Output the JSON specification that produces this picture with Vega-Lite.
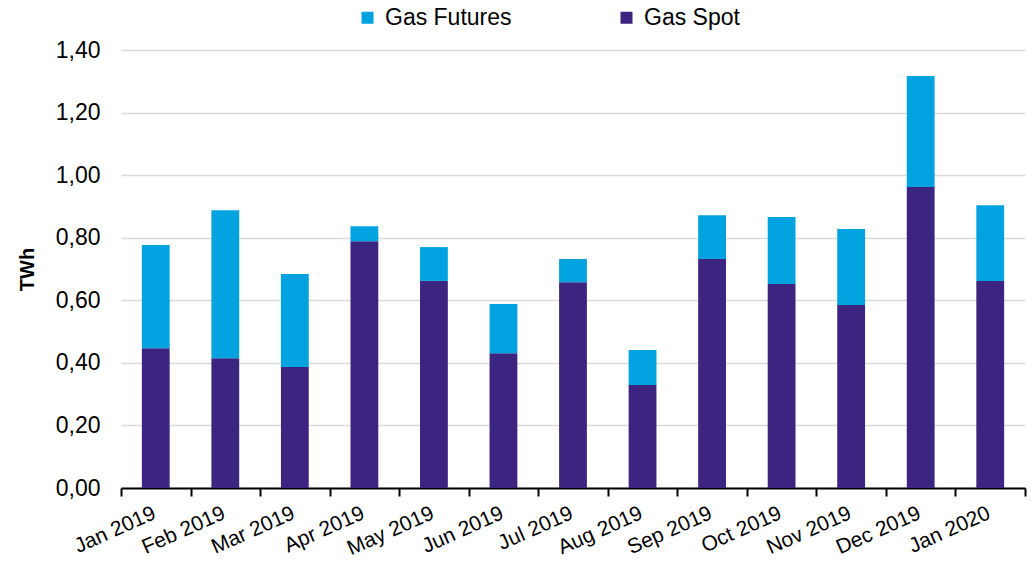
{
  "$schema": "https://vega.github.io/schema/vega-lite/v6.json",
  "width": 904,
  "height": 438,
  "autosize": {"type": "none"},
  "padding": {"left": 121, "top": 50, "right": 6, "bottom": 75},
  "background": "white",
  "config": {
    "view": {"stroke": null},
    "font": "Liberation Sans",
    "locale": {"number": {"decimal": ",", "thousands": ".", "grouping": [3], "currency": ["", " €"]}}
  },
  "data": {
    "values": [
      {"month": "Jan 2019", "series": "Gas Spot", "value": 0.447},
      {"month": "Jan 2019", "series": "Gas Futures", "value": 0.330},
      {"month": "Feb 2019", "series": "Gas Spot", "value": 0.415},
      {"month": "Feb 2019", "series": "Gas Futures", "value": 0.473},
      {"month": "Mar 2019", "series": "Gas Spot", "value": 0.387},
      {"month": "Mar 2019", "series": "Gas Futures", "value": 0.297},
      {"month": "Apr 2019", "series": "Gas Spot", "value": 0.789},
      {"month": "Apr 2019", "series": "Gas Futures", "value": 0.048},
      {"month": "May 2019", "series": "Gas Spot", "value": 0.662},
      {"month": "May 2019", "series": "Gas Futures", "value": 0.108},
      {"month": "Jun 2019", "series": "Gas Spot", "value": 0.431},
      {"month": "Jun 2019", "series": "Gas Futures", "value": 0.157},
      {"month": "Jul 2019", "series": "Gas Spot", "value": 0.658},
      {"month": "Jul 2019", "series": "Gas Futures", "value": 0.074},
      {"month": "Aug 2019", "series": "Gas Spot", "value": 0.329},
      {"month": "Aug 2019", "series": "Gas Futures", "value": 0.112},
      {"month": "Sep 2019", "series": "Gas Spot", "value": 0.732},
      {"month": "Sep 2019", "series": "Gas Futures", "value": 0.140},
      {"month": "Oct 2019", "series": "Gas Spot", "value": 0.652},
      {"month": "Oct 2019", "series": "Gas Futures", "value": 0.214},
      {"month": "Nov 2019", "series": "Gas Spot", "value": 0.585},
      {"month": "Nov 2019", "series": "Gas Futures", "value": 0.243},
      {"month": "Dec 2019", "series": "Gas Spot", "value": 0.962},
      {"month": "Dec 2019", "series": "Gas Futures", "value": 0.355},
      {"month": "Jan 2020", "series": "Gas Spot", "value": 0.662},
      {"month": "Jan 2020", "series": "Gas Futures", "value": 0.242}
    ]
  },
  "mark": {"type": "bar", "width": {"band": 0.4}},
  "encoding": {
    "x": {
      "field": "month",
      "type": "ordinal",
      "sort": null,
      "scale": {"paddingInner": 0, "paddingOuter": 0},
      "axis": {
        "title": null,
        "labelAngle": -24,
        "labelFontSize": 21,
        "labelColor": "black",
        "labelPadding": 6,
        "labelOffset": -6,
        "domainColor": "black",
        "domainWidth": 2,
        "tickColor": "black",
        "tickWidth": 2,
        "tickSize": 8,
        "tickBand": "extent",
        "grid": false
      }
    },
    "y": {
      "field": "value",
      "type": "quantitative",
      "stack": "zero",
      "scale": {"domain": [0, 1.4], "nice": false},
      "axis": {
        "title": "TWh",
        "titleFontSize": 20,
        "titleFontWeight": "bold",
        "titleColor": "black",
        "titlePadding": 18,
        "values": [0, 0.2, 0.4, 0.6, 0.8, 1.0, 1.2, 1.4],
        "format": ".2f",
        "labelFontSize": 23,
        "labelColor": "black",
        "labelPadding": 21,
        "ticks": false,
        "domain": false,
        "grid": true,
        "gridColor": "#d9d9d9",
        "gridWidth": 1.5
      }
    },
    "color": {
      "field": "series",
      "type": "nominal",
      "scale": {"domain": ["Gas Futures", "Gas Spot"], "range": ["#00A3E0", "#3C2581"]},
      "legend": {
        "title": null,
        "orient": "none",
        "direction": "horizontal",
        "legendX": 235,
        "legendY": -44,
        "symbolType": "square",
        "symbolSize": 144,
        "symbolStrokeWidth": 0,
        "labelFontSize": 23,
        "labelColor": "black",
        "labelOffset": 6,
        "columnPadding": 103,
        "padding": 0
      }
    },
    "order": {"field": "series", "sort": "descending"}
  }
}
